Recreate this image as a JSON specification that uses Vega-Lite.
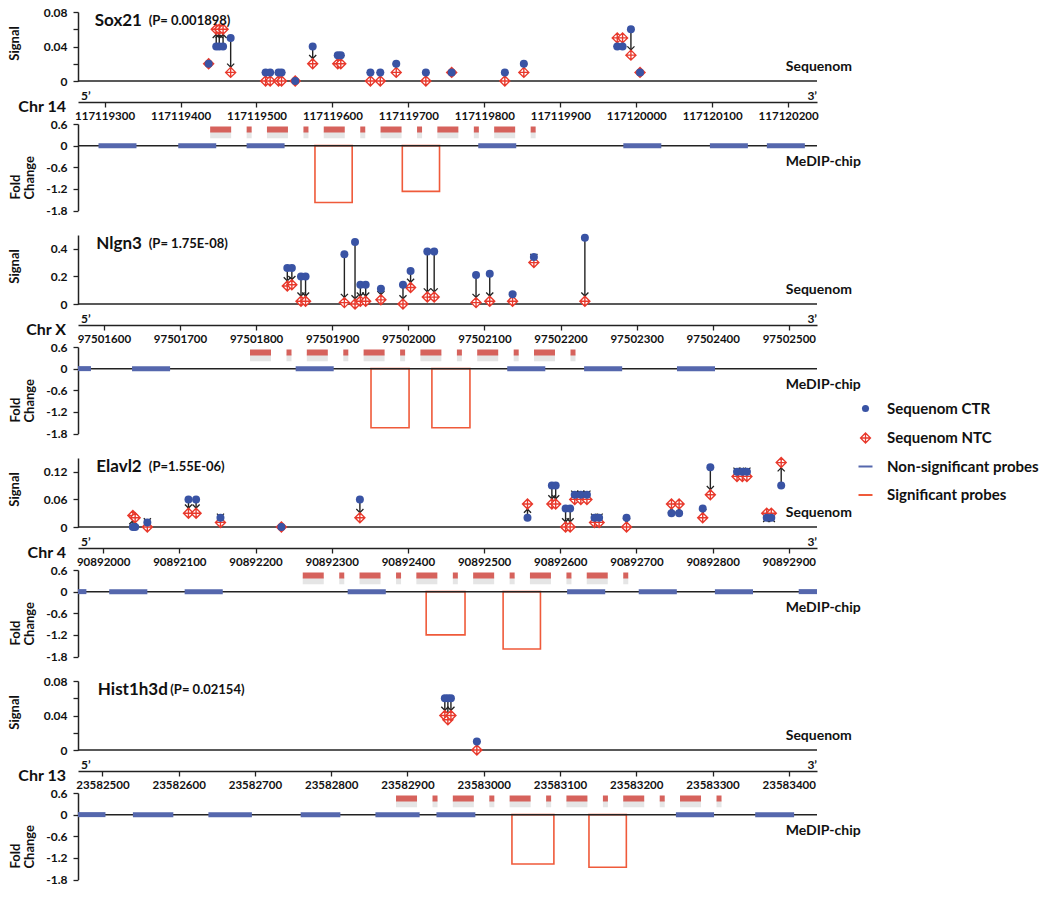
{
 "$schema": "https://vega.github.io/schema/vega-lite/v6.json",
 "padding": {"left": 8, "top": 6, "right": 5, "bottom": 5},
 "background": "white",
 "spacing": 24,
 "bounds": "flush",
 "datasets": {
  "s_sites": [
   {"pos":117119437,"CTR":0.02,"NTC":0.02},{"pos":117119447,"CTR":0.04,"NTC":0.06},{"pos":117119451,"CTR":0.04,"NTC":0.06},{"pos":117119456,"CTR":0.04,"NTC":0.06},
   {"pos":117119466,"CTR":0.05,"NTC":0.01},{"pos":117119512,"CTR":0.01,"NTC":0},{"pos":117119518,"CTR":0.01,"NTC":0},{"pos":117119529,"CTR":0.01,"NTC":0},
   {"pos":117119533,"CTR":0.01,"NTC":0},{"pos":117119551,"CTR":0,"NTC":0},{"pos":117119574,"CTR":0.04,"NTC":0.02},{"pos":117119607,"CTR":0.03,"NTC":0.02},
   {"pos":117119611,"CTR":0.03,"NTC":0.02},{"pos":117119650,"CTR":0.01,"NTC":0},{"pos":117119663,"CTR":0.01,"NTC":0},{"pos":117119684,"CTR":0.02,"NTC":0.01},
   {"pos":117119723,"CTR":0.01,"NTC":0},{"pos":117119757,"CTR":0.01,"NTC":0.01},{"pos":117119827,"CTR":0.01,"NTC":0},{"pos":117119852,"CTR":0.02,"NTC":0.01},
   {"pos":117119975,"CTR":0.04,"NTC":0.05},{"pos":117119982,"CTR":0.04,"NTC":0.05},{"pos":117119993,"CTR":0.06,"NTC":0.03},{"pos":117120005,"CTR":0.01,"NTC":0.01}
  ],
  "s_probes": [
   {"series":"NS","start":117119292,"end":117119342,"fc":0},{"series":"NS","start":117119397,"end":117119447,"fc":0},{"series":"NS","start":117119487,"end":117119537,"fc":0},
   {"series":"NS","start":117119792,"end":117119842,"fc":0},{"series":"NS","start":117119983,"end":117120033,"fc":0},{"series":"NS","start":117120097,"end":117120147,"fc":0},
   {"series":"NS","start":117120172,"end":117120222,"fc":0},
   {"series":"S","start":117119577,"end":117119626,"fc":-1.58},{"series":"S","start":117119692,"end":117119741,"fc":-1.27}
  ],
  "s_amp": [{"start":117119439,"end":117119868}],
  "n_sites": [
   {"pos":97501841,"CTR":0.26,"NTC":0.13},{"pos":97501847,"CTR":0.26,"NTC":0.14},{"pos":97501859,"CTR":0.2,"NTC":0.02},{"pos":97501865,"CTR":0.2,"NTC":0.02},
   {"pos":97501916,"CTR":0.36,"NTC":0.01},{"pos":97501930,"CTR":0.45,"NTC":0},{"pos":97501937,"CTR":0.14,"NTC":0.02},{"pos":97501944,"CTR":0.14,"NTC":0.02},
   {"pos":97501964,"CTR":0.11,"NTC":0.03},{"pos":97501993,"CTR":0.14,"NTC":0},{"pos":97502003,"CTR":0.24,"NTC":0.12},{"pos":97502025,"CTR":0.38,"NTC":0.05},
   {"pos":97502034,"CTR":0.38,"NTC":0.05},{"pos":97502089,"CTR":0.21,"NTC":0.01},{"pos":97502107,"CTR":0.22,"NTC":0.02},{"pos":97502137,"CTR":0.07,"NTC":0.02},
   {"pos":97502165,"CTR":0.34,"NTC":0.3},{"pos":97502232,"CTR":0.48,"NTC":0.02}
  ],
  "n_probes": [
   {"series":"NS","start":97501566,"end":97501583,"fc":0},{"series":"NS","start":97501637,"end":97501687,"fc":0},{"series":"NS","start":97501852,"end":97501902,"fc":0},
   {"series":"NS","start":97502130,"end":97502180,"fc":0},{"series":"NS","start":97502231,"end":97502281,"fc":0},{"series":"NS","start":97502353,"end":97502403,"fc":0},
   {"series":"S","start":97501951,"end":97502001,"fc":-1.64},{"series":"S","start":97502031,"end":97502081,"fc":-1.64}
  ],
  "n_amp": [{"start":97501792,"end":97502220}],
  "e_sites": [
   {"pos":90892039,"CTR":0,"NTC":0.025},{"pos":90892042,"CTR":0,"NTC":0.02},{"pos":90892058,"CTR":0.01,"NTC":0},{"pos":90892112,"CTR":0.06,"NTC":0.03},
   {"pos":90892122,"CTR":0.06,"NTC":0.03},{"pos":90892154,"CTR":0.02,"NTC":0.01},{"pos":90892234,"CTR":0,"NTC":0},{"pos":90892337,"CTR":0.06,"NTC":0.02},
   {"pos":90892557,"CTR":0.02,"NTC":0.05},{"pos":90892589,"CTR":0.09,"NTC":0.05},{"pos":90892594,"CTR":0.09,"NTC":0.05},{"pos":90892607,"CTR":0.04,"NTC":0},
   {"pos":90892613,"CTR":0.04,"NTC":0},{"pos":90892619,"CTR":0.07,"NTC":0.06},{"pos":90892627,"CTR":0.07,"NTC":0.06},{"pos":90892635,"CTR":0.07,"NTC":0.06},
   {"pos":90892645,"CTR":0.02,"NTC":0.01},{"pos":90892651,"CTR":0.02,"NTC":0.01},{"pos":90892687,"CTR":0.02,"NTC":0},{"pos":90892746,"CTR":0.03,"NTC":0.05},
   {"pos":90892756,"CTR":0.03,"NTC":0.05},{"pos":90892787,"CTR":0.04,"NTC":0.02},{"pos":90892797,"CTR":0.13,"NTC":0.07},{"pos":90892832,"CTR":0.12,"NTC":0.11},
   {"pos":90892839,"CTR":0.12,"NTC":0.11},{"pos":90892845,"CTR":0.12,"NTC":0.11},{"pos":90892871,"CTR":0.02,"NTC":0.03},{"pos":90892877,"CTR":0.02,"NTC":0.03},
   {"pos":90892890,"CTR":0.09,"NTC":0.14}
  ],
  "e_probes": [
   {"series":"NS","start":90891967,"end":90891978,"fc":0},{"series":"NS","start":90892008,"end":90892058,"fc":0},{"series":"NS","start":90892107,"end":90892157,"fc":0},
   {"series":"NS","start":90892321,"end":90892371,"fc":0},{"series":"NS","start":90892609,"end":90892659,"fc":0},{"series":"NS","start":90892703,"end":90892753,"fc":0},
   {"series":"NS","start":90892803,"end":90892853,"fc":0},{"series":"NS","start":90892913,"end":90892937,"fc":0},
   {"series":"S","start":90892424,"end":90892475,"fc":-1.2},{"series":"S","start":90892525,"end":90892574,"fc":-1.59}
  ],
  "e_amp": [{"start":90892262,"end":90892690}],
  "h_sites": [
   {"pos":23582949,"CTR":0.06,"NTC":0.04},{"pos":23582953,"CTR":0.06,"NTC":0.035},{"pos":23582957,"CTR":0.06,"NTC":0.04},{"pos":23582991,"CTR":0.01,"NTC":0}
  ],
  "h_probes": [
   {"series":"NS","start":23582468,"end":23582504,"fc":0},{"series":"NS","start":23582540,"end":23582593,"fc":0},{"series":"NS","start":23582639,"end":23582696,"fc":0},
   {"series":"NS","start":23582760,"end":23582812,"fc":0},{"series":"NS","start":23582858,"end":23582916,"fc":0},{"series":"NS","start":23582938,"end":23582989,"fc":0},
   {"series":"NS","start":23583252,"end":23583302,"fc":0},{"series":"NS","start":23583356,"end":23583407,"fc":0},
   {"series":"S","start":23583037,"end":23583092,"fc":-1.37},{"series":"S","start":23583138,"end":23583187,"fc":-1.46}
  ],
  "h_amp": [{"start":23582885,"end":23583312}]
 },
 "vconcat": [
  {
   "width": 739, "height": 198.5,
   "resolve": {"scale": {"y": "independent"}, "axis": {"y": "independent"}},
   "layer": [
    {"layer": [
     {"data": {"values": [{}]}, "mark": {"type": "rule", "color": "#222", "strokeWidth": 1.5},
      "encoding": {"y": {"datum": 0, "type": "quantitative", "scale": {"domain": [0, 0.08], "range": [69, 0], "nice": false, "zero": false},
       "axis": {"orient": "left", "title": "Signal", "values": [0, 0.02, 0.04, 0.06, 0.08], "labelExpr": "(datum.value == 0 || datum.value == 0.04 || datum.value == 0.08) ? format(datum.value, '~g') : ''", "titleX": -64, "titleY": 31, "titleAngle": -90, "titleAlign": "center", "titleBaseline": "middle"}}}},
     {"data": {"name": "s_sites"}, "transform": [{"filter": "datum.CTR != datum.NTC"}], "mark": {"type": "rule", "color": "#222", "strokeWidth": 1.4},
      "encoding": {"x": {"field": "pos", "type": "quantitative", "scale": {"domain": [117119265, 117120238], "nice": false, "zero": false},
        "axis": {"orient": "bottom", "offset": -108.5, "title": null, "values": [117119300,117119400,117119500,117119600,117119700,117119800,117119900,117120000,117120100,117120200], "format": "d"}},
       "y": {"field": "CTR", "type": "quantitative", "scale": {"domain": [0, 0.08], "range": [69, 0], "nice": false, "zero": false}}, "y2": {"field": "NTC"}}},
     {"data": {"name": "s_sites"}, "transform": [{"filter": "datum.CTR != datum.NTC"}], "mark": {"type": "point", "shape": "M-1.3,-3.2L0,-1.9L1.3,-3.2", "filled": false, "size": 30, "color": "#222", "strokeWidth": 1.3, "opacity": 1},
      "encoding": {"x": {"field": "pos", "type": "quantitative", "scale": {"domain": [117119265, 117120238], "nice": false, "zero": false}},
       "y": {"field": "NTC", "type": "quantitative", "scale": {"domain": [0, 0.08], "range": [69, 0], "nice": false, "zero": false}},
       "angle": {"condition": {"test": "datum.NTC > datum.CTR", "value": 180}, "value": 0}}},
     {"data": {"name": "s_sites"}, "mark": {"type": "point", "shape": "M0,-1L1,0L0,1L-1,0Z M0,-1L0,1 M-1,0L1,0", "filled": false, "fill": "white", "size": 100, "strokeWidth": 1.4, "opacity": 1},
      "encoding": {"x": {"field": "pos", "type": "quantitative", "scale": {"domain": [117119265, 117120238], "nice": false, "zero": false}},
       "y": {"field": "NTC", "type": "quantitative", "scale": {"domain": [0, 0.08], "range": [69, 0], "nice": false, "zero": false}},
       "color": {"datum": "NTC", "type": "nominal", "title": null, "scale": {"domain": ["CTR", "NTC", "NS", "S"], "range": ["#3953a4", "#e8392c", "#5567ad", "#ef5a3a"]},
        "legend": {"orient": "none", "legendX": 780, "legendY": 389, "title": null,
         "labelExpr": "datum.value == 'CTR' ? 'Sequenom CTR' : datum.value == 'NTC' ? 'Sequenom NTC' : datum.value == 'NS' ? 'Non-significant probes' : 'Significant probes'",
         "labelFont": "Lato", "labelFontSize": 15, "labelFontWeight": "bold", "labelColor": "#111", "labelLimit": 300, "rowPadding": 12.5, "labelOffset": 14, "symbolSize": 196,
         "encoding": {"symbols": {
          "shape": {"value": {"expr": "datum.value == 'CTR' ? 'circle' : datum.value == 'NTC' ? 'M0,-1L1,0L0,1L-1,0Z M0,-1L0,1 M-1,0L1,0' : 'stroke'"}},
          "fill": {"value": {"expr": "datum.value == 'CTR' ? '#3953a4' : datum.value == 'NTC' ? '#ffffff' : 'transparent'"}},
          "fillOpacity": {"value": {"expr": "datum.value == 'CTR' ? 1 : 0"}},
          "stroke": {"value": {"expr": "datum.value == 'CTR' ? '#3953a4' : datum.value == 'NTC' ? '#e8392c' : datum.value == 'NS' ? '#6b7bbf' : '#f07050'"}},
          "strokeWidth": {"value": {"expr": "datum.value == 'CTR' ? 0 : datum.value == 'NTC' ? 1.3 : 2"}},
          "size": {"value": {"expr": "datum.value == 'CTR' ? 50 : datum.value == 'NTC' ? 100 : 196"}},
          "opacity": {"value": 1}
         }}}}}},
     {"data": {"name": "s_sites"}, "mark": {"type": "point", "shape": "circle", "filled": true, "size": 64, "opacity": 1},
      "encoding": {"x": {"field": "pos", "type": "quantitative", "scale": {"domain": [117119265, 117120238], "nice": false, "zero": false}},
       "y": {"field": "CTR", "type": "quantitative", "scale": {"domain": [0, 0.08], "range": [69, 0], "nice": false, "zero": false}},
       "color": {"datum": "CTR", "type": "nominal", "title": null, "scale": {"domain": ["CTR", "NTC", "NS", "S"], "range": ["#3953a4", "#e8392c", "#5567ad", "#ef5a3a"]}}}}
    ]},
    {"layer": [
     {"data": {"name": "s_amp"}, "mark": {"type": "rule", "color": "#888", "opacity": 0.22, "strokeWidth": 7, "strokeDash": [21, 15.5, 5, 15.3]},
      "encoding": {"x": {"field": "start", "type": "quantitative", "scale": {"domain": [117119265, 117120238], "nice": false, "zero": false}}, "x2": {"field": "end"},
       "y": {"datum": 0.3, "type": "quantitative", "scale": {"domain": [-1.8, 0.6], "range": [198.5, 112], "nice": false, "zero": false}}}},
     {"data": {"name": "s_amp"}, "mark": {"type": "rule", "color": "#d6625c", "strokeWidth": 6, "strokeDash": [21, 15.5, 5, 15.3]},
      "encoding": {"x": {"field": "start", "type": "quantitative", "scale": {"domain": [117119265, 117120238], "nice": false, "zero": false}}, "x2": {"field": "end"},
       "y": {"datum": 0.447, "type": "quantitative", "scale": {"domain": [-1.8, 0.6], "range": [198.5, 112], "nice": false, "zero": false}}}},
     {"data": {"name": "s_probes"}, "transform": [{"filter": "datum.series == 'S'"}], "mark": {"type": "rect", "filled": false, "strokeWidth": 1.6},
      "encoding": {"x": {"field": "start", "type": "quantitative", "scale": {"domain": [117119265, 117120238], "nice": false, "zero": false}}, "x2": {"field": "end"},
       "y": {"field": "fc", "type": "quantitative", "scale": {"domain": [-1.8, 0.6], "range": [198.5, 112], "nice": false, "zero": false}}, "y2": {"datum": 0},
       "color": {"field": "series", "type": "nominal", "title": null, "scale": {"domain": ["CTR", "NTC", "NS", "S"], "range": ["#3953a4", "#e8392c", "#5567ad", "#ef5a3a"]}}}},
     {"data": {"values": [{}]}, "mark": {"type": "rule", "color": "#222", "strokeWidth": 1.5},
      "encoding": {"y": {"datum": 0, "type": "quantitative", "scale": {"domain": [-1.8, 0.6], "range": [198.5, 112], "nice": false, "zero": false},
       "axis": {"orient": "left", "title": ["Fold", "Change"], "values": [0.6, 0, -0.6, -1.2, -1.8], "labelExpr": "datum.value == 0 ? '0' : (datum.value < 0 ? '-' : '') + format(abs(datum.value), '.1f')", "titleX": -63, "titleY": 187, "titleAngle": -90, "titleAlign": "left", "titleBaseline": "middle", "titleLineHeight": 14}}}},
     {"data": {"name": "s_probes"}, "transform": [{"filter": "datum.series == 'NS'"}], "mark": {"type": "rule", "strokeWidth": 5},
      "encoding": {"x": {"field": "start", "type": "quantitative", "scale": {"domain": [117119265, 117120238], "nice": false, "zero": false}}, "x2": {"field": "end"},
       "y": {"datum": 0, "type": "quantitative", "scale": {"domain": [-1.8, 0.6], "range": [198.5, 112], "nice": false, "zero": false}},
       "color": {"field": "series", "type": "nominal", "title": null, "scale": {"domain": ["CTR", "NTC", "NS", "S"], "range": ["#3953a4", "#e8392c", "#5567ad", "#ef5a3a"]}}}},
     {"data": {"values": [{}]}, "mark": {"type": "text", "text": "Sox21", "fontSize": 17, "fontWeight": "bold", "align": "left", "baseline": "middle", "color": "#111"},
      "encoding": {"x": {"datum": 117119287, "type": "quantitative", "scale": {"domain": [117119265, 117120238], "nice": false, "zero": false}}, "y": {"datum": 3.46, "type": "quantitative", "scale": {"domain": [-1.8, 0.6], "range": [198.5, 112], "nice": false, "zero": false}}}},
     {"data": {"values": [{}]}, "mark": {"type": "text", "text": "(P= 0.001898)", "fontSize": 13, "fontWeight": "bold", "align": "left", "baseline": "middle", "color": "#111"},
      "encoding": {"x": {"datum": 117119358, "type": "quantitative", "scale": {"domain": [117119265, 117120238], "nice": false, "zero": false}}, "y": {"datum": 3.46, "type": "quantitative", "scale": {"domain": [-1.8, 0.6], "range": [198.5, 112], "nice": false, "zero": false}}}},
     {"data": {"values": [{}]}, "mark": {"type": "text", "text": "Sequenom", "fontSize": 14, "fontWeight": "bold", "align": "left", "baseline": "middle", "color": "#111"},
      "encoding": {"x": {"datum": 117120197, "type": "quantitative", "scale": {"domain": [117119265, 117120238], "nice": false, "zero": false}}, "y": {"datum": 2.18, "type": "quantitative", "scale": {"domain": [-1.8, 0.6], "range": [198.5, 112], "nice": false, "zero": false}}}},
     {"data": {"values": [{}]}, "mark": {"type": "text", "text": "MeDIP-chip", "fontSize": 14, "fontWeight": "bold", "align": "left", "baseline": "middle", "color": "#111"},
      "encoding": {"x": {"datum": 117120197, "type": "quantitative", "scale": {"domain": [117119265, 117120238], "nice": false, "zero": false}}, "y": {"datum": -0.454, "type": "quantitative", "scale": {"domain": [-1.8, 0.6], "range": [198.5, 112], "nice": false, "zero": false}}}},
     {"data": {"values": [{}]}, "mark": {"type": "text", "text": "5’", "fontSize": 12, "fontWeight": "bold", "align": "left", "baseline": "middle", "dx": 3, "color": "#111"},
      "encoding": {"x": {"datum": 117119265, "type": "quantitative", "scale": {"domain": [117119265, 117120238], "nice": false, "zero": false}}, "y": {"datum": 1.377, "type": "quantitative", "scale": {"domain": [-1.8, 0.6], "range": [198.5, 112], "nice": false, "zero": false}}}},
     {"data": {"values": [{}]}, "mark": {"type": "text", "text": "3’", "fontSize": 12, "fontWeight": "bold", "align": "right", "baseline": "middle", "color": "#111"},
      "encoding": {"x": {"datum": 117120238, "type": "quantitative", "scale": {"domain": [117119265, 117120238], "nice": false, "zero": false}}, "y": {"datum": 1.377, "type": "quantitative", "scale": {"domain": [-1.8, 0.6], "range": [198.5, 112], "nice": false, "zero": false}}}},
     {"data": {"values": [{}]}, "mark": {"type": "text", "text": "Chr 14", "fontSize": 16, "fontWeight": "bold", "align": "right", "baseline": "middle", "dx": -12, "color": "#111"},
      "encoding": {"x": {"datum": 117119265, "type": "quantitative", "scale": {"domain": [117119265, 117120238], "nice": false, "zero": false}}, "y": {"datum": 1.072, "type": "quantitative", "scale": {"domain": [-1.8, 0.6], "range": [198.5, 112], "nice": false, "zero": false}}}}
    ]}
   ]
  },
  {
   "width": 739, "height": 198.5,
   "resolve": {"scale": {"y": "independent"}, "axis": {"y": "independent"}},
   "layer": [
    {"layer": [
     {"data": {"values": [{}]}, "mark": {"type": "rule", "color": "#222", "strokeWidth": 1.5},
      "encoding": {"y": {"datum": 0, "type": "quantitative", "scale": {"domain": [0, 0.5], "range": [69, 0], "nice": false, "zero": false},
       "axis": {"orient": "left", "title": "Signal", "values": [0, 0.1, 0.2, 0.3, 0.4, 0.5], "labelExpr": "(datum.value == 0 || datum.value == 0.2 || datum.value == 0.4) ? format(datum.value, '~g') : ''", "titleX": -64, "titleY": 31, "titleAngle": -90, "titleAlign": "center", "titleBaseline": "middle"}}}},
     {"data": {"name": "n_sites"}, "transform": [{"filter": "datum.CTR != datum.NTC"}], "mark": {"type": "rule", "color": "#222", "strokeWidth": 1.4},
      "encoding": {"x": {"field": "pos", "type": "quantitative", "scale": {"domain": [97501566, 97502537], "nice": false, "zero": false},
        "axis": {"orient": "bottom", "offset": -108.5, "title": null, "values": [97501600,97501700,97501800,97501900,97502000,97502100,97502200,97502300,97502400,97502500], "format": "d"}},
       "y": {"field": "CTR", "type": "quantitative", "scale": {"domain": [0, 0.5], "range": [69, 0], "nice": false, "zero": false}}, "y2": {"field": "NTC"}}},
     {"data": {"name": "n_sites"}, "transform": [{"filter": "datum.CTR != datum.NTC"}], "mark": {"type": "point", "shape": "M-1.3,-3.2L0,-1.9L1.3,-3.2", "filled": false, "size": 30, "color": "#222", "strokeWidth": 1.3, "opacity": 1},
      "encoding": {"x": {"field": "pos", "type": "quantitative", "scale": {"domain": [97501566, 97502537], "nice": false, "zero": false}},
       "y": {"field": "NTC", "type": "quantitative", "scale": {"domain": [0, 0.5], "range": [69, 0], "nice": false, "zero": false}},
       "angle": {"condition": {"test": "datum.NTC > datum.CTR", "value": 180}, "value": 0}}},
     {"data": {"name": "n_sites"}, "mark": {"type": "point", "shape": "M0,-1L1,0L0,1L-1,0Z M0,-1L0,1 M-1,0L1,0", "filled": false, "fill": "white", "size": 100, "strokeWidth": 1.4, "opacity": 1},
      "encoding": {"x": {"field": "pos", "type": "quantitative", "scale": {"domain": [97501566, 97502537], "nice": false, "zero": false}},
       "y": {"field": "NTC", "type": "quantitative", "scale": {"domain": [0, 0.5], "range": [69, 0], "nice": false, "zero": false}},
       "color": {"datum": "NTC", "type": "nominal", "title": null, "scale": {"domain": ["CTR", "NTC", "NS", "S"], "range": ["#3953a4", "#e8392c", "#5567ad", "#ef5a3a"]}}}},
     {"data": {"name": "n_sites"}, "mark": {"type": "point", "shape": "circle", "filled": true, "size": 64, "opacity": 1},
      "encoding": {"x": {"field": "pos", "type": "quantitative", "scale": {"domain": [97501566, 97502537], "nice": false, "zero": false}},
       "y": {"field": "CTR", "type": "quantitative", "scale": {"domain": [0, 0.5], "range": [69, 0], "nice": false, "zero": false}},
       "color": {"datum": "CTR", "type": "nominal", "title": null, "scale": {"domain": ["CTR", "NTC", "NS", "S"], "range": ["#3953a4", "#e8392c", "#5567ad", "#ef5a3a"]}}}}
    ]},
    {"layer": [
     {"data": {"name": "n_amp"}, "mark": {"type": "rule", "color": "#888", "opacity": 0.22, "strokeWidth": 7, "strokeDash": [21, 15.5, 5, 15.3]},
      "encoding": {"x": {"field": "start", "type": "quantitative", "scale": {"domain": [97501566, 97502537], "nice": false, "zero": false}}, "x2": {"field": "end"},
       "y": {"datum": 0.3, "type": "quantitative", "scale": {"domain": [-1.8, 0.6], "range": [198.5, 112], "nice": false, "zero": false}}}},
     {"data": {"name": "n_amp"}, "mark": {"type": "rule", "color": "#d6625c", "strokeWidth": 6, "strokeDash": [21, 15.5, 5, 15.3]},
      "encoding": {"x": {"field": "start", "type": "quantitative", "scale": {"domain": [97501566, 97502537], "nice": false, "zero": false}}, "x2": {"field": "end"},
       "y": {"datum": 0.447, "type": "quantitative", "scale": {"domain": [-1.8, 0.6], "range": [198.5, 112], "nice": false, "zero": false}}}},
     {"data": {"name": "n_probes"}, "transform": [{"filter": "datum.series == 'S'"}], "mark": {"type": "rect", "filled": false, "strokeWidth": 1.6},
      "encoding": {"x": {"field": "start", "type": "quantitative", "scale": {"domain": [97501566, 97502537], "nice": false, "zero": false}}, "x2": {"field": "end"},
       "y": {"field": "fc", "type": "quantitative", "scale": {"domain": [-1.8, 0.6], "range": [198.5, 112], "nice": false, "zero": false}}, "y2": {"datum": 0},
       "color": {"field": "series", "type": "nominal", "title": null, "scale": {"domain": ["CTR", "NTC", "NS", "S"], "range": ["#3953a4", "#e8392c", "#5567ad", "#ef5a3a"]}}}},
     {"data": {"values": [{}]}, "mark": {"type": "rule", "color": "#222", "strokeWidth": 1.5},
      "encoding": {"y": {"datum": 0, "type": "quantitative", "scale": {"domain": [-1.8, 0.6], "range": [198.5, 112], "nice": false, "zero": false},
       "axis": {"orient": "left", "title": ["Fold", "Change"], "values": [0.6, 0, -0.6, -1.2, -1.8], "labelExpr": "datum.value == 0 ? '0' : (datum.value < 0 ? '-' : '') + format(abs(datum.value), '.1f')", "titleX": -63, "titleY": 187, "titleAngle": -90, "titleAlign": "left", "titleBaseline": "middle", "titleLineHeight": 14}}}},
     {"data": {"name": "n_probes"}, "transform": [{"filter": "datum.series == 'NS'"}], "mark": {"type": "rule", "strokeWidth": 5},
      "encoding": {"x": {"field": "start", "type": "quantitative", "scale": {"domain": [97501566, 97502537], "nice": false, "zero": false}}, "x2": {"field": "end"},
       "y": {"datum": 0, "type": "quantitative", "scale": {"domain": [-1.8, 0.6], "range": [198.5, 112], "nice": false, "zero": false}},
       "color": {"field": "series", "type": "nominal", "title": null, "scale": {"domain": ["CTR", "NTC", "NS", "S"], "range": ["#3953a4", "#e8392c", "#5567ad", "#ef5a3a"]}}}},
     {"data": {"values": [{}]}, "mark": {"type": "text", "text": "Nlgn3", "fontSize": 17, "fontWeight": "bold", "align": "left", "baseline": "middle", "color": "#111"},
      "encoding": {"x": {"datum": 97501590, "type": "quantitative", "scale": {"domain": [97501566, 97502537], "nice": false, "zero": false}}, "y": {"datum": 3.46, "type": "quantitative", "scale": {"domain": [-1.8, 0.6], "range": [198.5, 112], "nice": false, "zero": false}}}},
     {"data": {"values": [{}]}, "mark": {"type": "text", "text": "(P= 1.75E-08)", "fontSize": 13, "fontWeight": "bold", "align": "left", "baseline": "middle", "color": "#111"},
      "encoding": {"x": {"datum": 97501659, "type": "quantitative", "scale": {"domain": [97501566, 97502537], "nice": false, "zero": false}}, "y": {"datum": 3.46, "type": "quantitative", "scale": {"domain": [-1.8, 0.6], "range": [198.5, 112], "nice": false, "zero": false}}}},
     {"data": {"values": [{}]}, "mark": {"type": "text", "text": "Sequenom", "fontSize": 14, "fontWeight": "bold", "align": "left", "baseline": "middle", "color": "#111"},
      "encoding": {"x": {"datum": 97502496, "type": "quantitative", "scale": {"domain": [97501566, 97502537], "nice": false, "zero": false}}, "y": {"datum": 2.18, "type": "quantitative", "scale": {"domain": [-1.8, 0.6], "range": [198.5, 112], "nice": false, "zero": false}}}},
     {"data": {"values": [{}]}, "mark": {"type": "text", "text": "MeDIP-chip", "fontSize": 14, "fontWeight": "bold", "align": "left", "baseline": "middle", "color": "#111"},
      "encoding": {"x": {"datum": 97502496, "type": "quantitative", "scale": {"domain": [97501566, 97502537], "nice": false, "zero": false}}, "y": {"datum": -0.454, "type": "quantitative", "scale": {"domain": [-1.8, 0.6], "range": [198.5, 112], "nice": false, "zero": false}}}},
     {"data": {"values": [{}]}, "mark": {"type": "text", "text": "5’", "fontSize": 12, "fontWeight": "bold", "align": "left", "baseline": "middle", "dx": 3, "color": "#111"},
      "encoding": {"x": {"datum": 97501566, "type": "quantitative", "scale": {"domain": [97501566, 97502537], "nice": false, "zero": false}}, "y": {"datum": 1.377, "type": "quantitative", "scale": {"domain": [-1.8, 0.6], "range": [198.5, 112], "nice": false, "zero": false}}}},
     {"data": {"values": [{}]}, "mark": {"type": "text", "text": "3’", "fontSize": 12, "fontWeight": "bold", "align": "right", "baseline": "middle", "color": "#111"},
      "encoding": {"x": {"datum": 97502537, "type": "quantitative", "scale": {"domain": [97501566, 97502537], "nice": false, "zero": false}}, "y": {"datum": 1.377, "type": "quantitative", "scale": {"domain": [-1.8, 0.6], "range": [198.5, 112], "nice": false, "zero": false}}}},
     {"data": {"values": [{}]}, "mark": {"type": "text", "text": "Chr X", "fontSize": 16, "fontWeight": "bold", "align": "right", "baseline": "middle", "dx": -12, "color": "#111"},
      "encoding": {"x": {"datum": 97501566, "type": "quantitative", "scale": {"domain": [97501566, 97502537], "nice": false, "zero": false}}, "y": {"datum": 1.072, "type": "quantitative", "scale": {"domain": [-1.8, 0.6], "range": [198.5, 112], "nice": false, "zero": false}}}}
    ]}
   ]
  },
  {
   "width": 739, "height": 198.5,
   "resolve": {"scale": {"y": "independent"}, "axis": {"y": "independent"}},
   "layer": [
    {"layer": [
     {"data": {"values": [{}]}, "mark": {"type": "rule", "color": "#222", "strokeWidth": 1.5},
      "encoding": {"y": {"datum": 0, "type": "quantitative", "scale": {"domain": [0, 0.15], "range": [69, 0], "nice": false, "zero": false},
       "axis": {"orient": "left", "title": "Signal", "values": [0, 0.03, 0.06, 0.09, 0.12, 0.15], "labelExpr": "(datum.value == 0 || datum.value == 0.06 || datum.value == 0.12) ? format(datum.value, '~g') : ''", "titleX": -64, "titleY": 31, "titleAngle": -90, "titleAlign": "center", "titleBaseline": "middle"}}}},
     {"data": {"name": "e_sites"}, "transform": [{"filter": "datum.CTR != datum.NTC"}], "mark": {"type": "rule", "color": "#222", "strokeWidth": 1.4},
      "encoding": {"x": {"field": "pos", "type": "quantitative", "scale": {"domain": [90891967, 90892937], "nice": false, "zero": false},
        "axis": {"orient": "bottom", "offset": -108.5, "title": null, "values": [90892000,90892100,90892200,90892300,90892400,90892500,90892600,90892700,90892800,90892900], "format": "d"}},
       "y": {"field": "CTR", "type": "quantitative", "scale": {"domain": [0, 0.15], "range": [69, 0], "nice": false, "zero": false}}, "y2": {"field": "NTC"}}},
     {"data": {"name": "e_sites"}, "transform": [{"filter": "datum.CTR != datum.NTC"}], "mark": {"type": "point", "shape": "M-1.3,-3.2L0,-1.9L1.3,-3.2", "filled": false, "size": 30, "color": "#222", "strokeWidth": 1.3, "opacity": 1},
      "encoding": {"x": {"field": "pos", "type": "quantitative", "scale": {"domain": [90891967, 90892937], "nice": false, "zero": false}},
       "y": {"field": "NTC", "type": "quantitative", "scale": {"domain": [0, 0.15], "range": [69, 0], "nice": false, "zero": false}},
       "angle": {"condition": {"test": "datum.NTC > datum.CTR", "value": 180}, "value": 0}}},
     {"data": {"name": "e_sites"}, "mark": {"type": "point", "shape": "M0,-1L1,0L0,1L-1,0Z M0,-1L0,1 M-1,0L1,0", "filled": false, "fill": "white", "size": 100, "strokeWidth": 1.4, "opacity": 1},
      "encoding": {"x": {"field": "pos", "type": "quantitative", "scale": {"domain": [90891967, 90892937], "nice": false, "zero": false}},
       "y": {"field": "NTC", "type": "quantitative", "scale": {"domain": [0, 0.15], "range": [69, 0], "nice": false, "zero": false}},
       "color": {"datum": "NTC", "type": "nominal", "title": null, "scale": {"domain": ["CTR", "NTC", "NS", "S"], "range": ["#3953a4", "#e8392c", "#5567ad", "#ef5a3a"]}}}},
     {"data": {"name": "e_sites"}, "mark": {"type": "point", "shape": "circle", "filled": true, "size": 64, "opacity": 1},
      "encoding": {"x": {"field": "pos", "type": "quantitative", "scale": {"domain": [90891967, 90892937], "nice": false, "zero": false}},
       "y": {"field": "CTR", "type": "quantitative", "scale": {"domain": [0, 0.15], "range": [69, 0], "nice": false, "zero": false}},
       "color": {"datum": "CTR", "type": "nominal", "title": null, "scale": {"domain": ["CTR", "NTC", "NS", "S"], "range": ["#3953a4", "#e8392c", "#5567ad", "#ef5a3a"]}}}}
    ]},
    {"layer": [
     {"data": {"name": "e_amp"}, "mark": {"type": "rule", "color": "#888", "opacity": 0.22, "strokeWidth": 7, "strokeDash": [21, 15.5, 5, 15.3]},
      "encoding": {"x": {"field": "start", "type": "quantitative", "scale": {"domain": [90891967, 90892937], "nice": false, "zero": false}}, "x2": {"field": "end"},
       "y": {"datum": 0.3, "type": "quantitative", "scale": {"domain": [-1.8, 0.6], "range": [198.5, 112], "nice": false, "zero": false}}}},
     {"data": {"name": "e_amp"}, "mark": {"type": "rule", "color": "#d6625c", "strokeWidth": 6, "strokeDash": [21, 15.5, 5, 15.3]},
      "encoding": {"x": {"field": "start", "type": "quantitative", "scale": {"domain": [90891967, 90892937], "nice": false, "zero": false}}, "x2": {"field": "end"},
       "y": {"datum": 0.447, "type": "quantitative", "scale": {"domain": [-1.8, 0.6], "range": [198.5, 112], "nice": false, "zero": false}}}},
     {"data": {"name": "e_probes"}, "transform": [{"filter": "datum.series == 'S'"}], "mark": {"type": "rect", "filled": false, "strokeWidth": 1.6},
      "encoding": {"x": {"field": "start", "type": "quantitative", "scale": {"domain": [90891967, 90892937], "nice": false, "zero": false}}, "x2": {"field": "end"},
       "y": {"field": "fc", "type": "quantitative", "scale": {"domain": [-1.8, 0.6], "range": [198.5, 112], "nice": false, "zero": false}}, "y2": {"datum": 0},
       "color": {"field": "series", "type": "nominal", "title": null, "scale": {"domain": ["CTR", "NTC", "NS", "S"], "range": ["#3953a4", "#e8392c", "#5567ad", "#ef5a3a"]}}}},
     {"data": {"values": [{}]}, "mark": {"type": "rule", "color": "#222", "strokeWidth": 1.5},
      "encoding": {"y": {"datum": 0, "type": "quantitative", "scale": {"domain": [-1.8, 0.6], "range": [198.5, 112], "nice": false, "zero": false},
       "axis": {"orient": "left", "title": ["Fold", "Change"], "values": [0.6, 0, -0.6, -1.2, -1.8], "labelExpr": "datum.value == 0 ? '0' : (datum.value < 0 ? '-' : '') + format(abs(datum.value), '.1f')", "titleX": -63, "titleY": 187, "titleAngle": -90, "titleAlign": "left", "titleBaseline": "middle", "titleLineHeight": 14}}}},
     {"data": {"name": "e_probes"}, "transform": [{"filter": "datum.series == 'NS'"}], "mark": {"type": "rule", "strokeWidth": 5},
      "encoding": {"x": {"field": "start", "type": "quantitative", "scale": {"domain": [90891967, 90892937], "nice": false, "zero": false}}, "x2": {"field": "end"},
       "y": {"datum": 0, "type": "quantitative", "scale": {"domain": [-1.8, 0.6], "range": [198.5, 112], "nice": false, "zero": false}},
       "color": {"field": "series", "type": "nominal", "title": null, "scale": {"domain": ["CTR", "NTC", "NS", "S"], "range": ["#3953a4", "#e8392c", "#5567ad", "#ef5a3a"]}}}},
     {"data": {"values": [{}]}, "mark": {"type": "text", "text": "Elavl2", "fontSize": 17, "fontWeight": "bold", "align": "left", "baseline": "middle", "color": "#111"},
      "encoding": {"x": {"datum": 90891991, "type": "quantitative", "scale": {"domain": [90891967, 90892937], "nice": false, "zero": false}}, "y": {"datum": 3.46, "type": "quantitative", "scale": {"domain": [-1.8, 0.6], "range": [198.5, 112], "nice": false, "zero": false}}}},
     {"data": {"values": [{}]}, "mark": {"type": "text", "text": "(P=1.55E-06)", "fontSize": 13, "fontWeight": "bold", "align": "left", "baseline": "middle", "color": "#111"},
      "encoding": {"x": {"datum": 90892060, "type": "quantitative", "scale": {"domain": [90891967, 90892937], "nice": false, "zero": false}}, "y": {"datum": 3.46, "type": "quantitative", "scale": {"domain": [-1.8, 0.6], "range": [198.5, 112], "nice": false, "zero": false}}}},
     {"data": {"values": [{}]}, "mark": {"type": "text", "text": "Sequenom", "fontSize": 14, "fontWeight": "bold", "align": "left", "baseline": "middle", "color": "#111"},
      "encoding": {"x": {"datum": 90892896, "type": "quantitative", "scale": {"domain": [90891967, 90892937], "nice": false, "zero": false}}, "y": {"datum": 2.18, "type": "quantitative", "scale": {"domain": [-1.8, 0.6], "range": [198.5, 112], "nice": false, "zero": false}}}},
     {"data": {"values": [{}]}, "mark": {"type": "text", "text": "MeDIP-chip", "fontSize": 14, "fontWeight": "bold", "align": "left", "baseline": "middle", "color": "#111"},
      "encoding": {"x": {"datum": 90892896, "type": "quantitative", "scale": {"domain": [90891967, 90892937], "nice": false, "zero": false}}, "y": {"datum": -0.454, "type": "quantitative", "scale": {"domain": [-1.8, 0.6], "range": [198.5, 112], "nice": false, "zero": false}}}},
     {"data": {"values": [{}]}, "mark": {"type": "text", "text": "5’", "fontSize": 12, "fontWeight": "bold", "align": "left", "baseline": "middle", "dx": 3, "color": "#111"},
      "encoding": {"x": {"datum": 90891967, "type": "quantitative", "scale": {"domain": [90891967, 90892937], "nice": false, "zero": false}}, "y": {"datum": 1.377, "type": "quantitative", "scale": {"domain": [-1.8, 0.6], "range": [198.5, 112], "nice": false, "zero": false}}}},
     {"data": {"values": [{}]}, "mark": {"type": "text", "text": "3’", "fontSize": 12, "fontWeight": "bold", "align": "right", "baseline": "middle", "color": "#111"},
      "encoding": {"x": {"datum": 90892937, "type": "quantitative", "scale": {"domain": [90891967, 90892937], "nice": false, "zero": false}}, "y": {"datum": 1.377, "type": "quantitative", "scale": {"domain": [-1.8, 0.6], "range": [198.5, 112], "nice": false, "zero": false}}}},
     {"data": {"values": [{}]}, "mark": {"type": "text", "text": "Chr 4", "fontSize": 16, "fontWeight": "bold", "align": "right", "baseline": "middle", "dx": -12, "color": "#111"},
      "encoding": {"x": {"datum": 90891967, "type": "quantitative", "scale": {"domain": [90891967, 90892937], "nice": false, "zero": false}}, "y": {"datum": 1.072, "type": "quantitative", "scale": {"domain": [-1.8, 0.6], "range": [198.5, 112], "nice": false, "zero": false}}}}
    ]}
   ]
  },
  {
   "width": 739, "height": 198.5,
   "resolve": {"scale": {"y": "independent"}, "axis": {"y": "independent"}},
   "layer": [
    {"layer": [
     {"data": {"values": [{}]}, "mark": {"type": "rule", "color": "#222", "strokeWidth": 1.5},
      "encoding": {"y": {"datum": 0, "type": "quantitative", "scale": {"domain": [0, 0.08], "range": [69, 0], "nice": false, "zero": false},
       "axis": {"orient": "left", "title": "Signal", "values": [0, 0.02, 0.04, 0.06, 0.08], "labelExpr": "(datum.value == 0 || datum.value == 0.04 || datum.value == 0.08) ? format(datum.value, '~g') : ''", "titleX": -64, "titleY": 31, "titleAngle": -90, "titleAlign": "center", "titleBaseline": "middle"}}}},
     {"data": {"name": "h_sites"}, "transform": [{"filter": "datum.CTR != datum.NTC"}], "mark": {"type": "rule", "color": "#222", "strokeWidth": 1.4},
      "encoding": {"x": {"field": "pos", "type": "quantitative", "scale": {"domain": [23582468, 23583437], "nice": false, "zero": false},
        "axis": {"orient": "bottom", "offset": -108.5, "title": null, "values": [23582500,23582600,23582700,23582800,23582900,23583000,23583100,23583200,23583300,23583400], "format": "d"}},
       "y": {"field": "CTR", "type": "quantitative", "scale": {"domain": [0, 0.08], "range": [69, 0], "nice": false, "zero": false}}, "y2": {"field": "NTC"}}},
     {"data": {"name": "h_sites"}, "transform": [{"filter": "datum.CTR != datum.NTC"}], "mark": {"type": "point", "shape": "M-1.3,-3.2L0,-1.9L1.3,-3.2", "filled": false, "size": 30, "color": "#222", "strokeWidth": 1.3, "opacity": 1},
      "encoding": {"x": {"field": "pos", "type": "quantitative", "scale": {"domain": [23582468, 23583437], "nice": false, "zero": false}},
       "y": {"field": "NTC", "type": "quantitative", "scale": {"domain": [0, 0.08], "range": [69, 0], "nice": false, "zero": false}},
       "angle": {"condition": {"test": "datum.NTC > datum.CTR", "value": 180}, "value": 0}}},
     {"data": {"name": "h_sites"}, "mark": {"type": "point", "shape": "M0,-1L1,0L0,1L-1,0Z M0,-1L0,1 M-1,0L1,0", "filled": false, "fill": "white", "size": 100, "strokeWidth": 1.4, "opacity": 1},
      "encoding": {"x": {"field": "pos", "type": "quantitative", "scale": {"domain": [23582468, 23583437], "nice": false, "zero": false}},
       "y": {"field": "NTC", "type": "quantitative", "scale": {"domain": [0, 0.08], "range": [69, 0], "nice": false, "zero": false}},
       "color": {"datum": "NTC", "type": "nominal", "title": null, "scale": {"domain": ["CTR", "NTC", "NS", "S"], "range": ["#3953a4", "#e8392c", "#5567ad", "#ef5a3a"]}}}},
     {"data": {"name": "h_sites"}, "mark": {"type": "point", "shape": "circle", "filled": true, "size": 64, "opacity": 1},
      "encoding": {"x": {"field": "pos", "type": "quantitative", "scale": {"domain": [23582468, 23583437], "nice": false, "zero": false}},
       "y": {"field": "CTR", "type": "quantitative", "scale": {"domain": [0, 0.08], "range": [69, 0], "nice": false, "zero": false}},
       "color": {"datum": "CTR", "type": "nominal", "title": null, "scale": {"domain": ["CTR", "NTC", "NS", "S"], "range": ["#3953a4", "#e8392c", "#5567ad", "#ef5a3a"]}}}}
    ]},
    {"layer": [
     {"data": {"name": "h_amp"}, "mark": {"type": "rule", "color": "#888", "opacity": 0.22, "strokeWidth": 7, "strokeDash": [21, 15.5, 5, 15.3]},
      "encoding": {"x": {"field": "start", "type": "quantitative", "scale": {"domain": [23582468, 23583437], "nice": false, "zero": false}}, "x2": {"field": "end"},
       "y": {"datum": 0.3, "type": "quantitative", "scale": {"domain": [-1.8, 0.6], "range": [198.5, 112], "nice": false, "zero": false}}}},
     {"data": {"name": "h_amp"}, "mark": {"type": "rule", "color": "#d6625c", "strokeWidth": 6, "strokeDash": [21, 15.5, 5, 15.3]},
      "encoding": {"x": {"field": "start", "type": "quantitative", "scale": {"domain": [23582468, 23583437], "nice": false, "zero": false}}, "x2": {"field": "end"},
       "y": {"datum": 0.447, "type": "quantitative", "scale": {"domain": [-1.8, 0.6], "range": [198.5, 112], "nice": false, "zero": false}}}},
     {"data": {"name": "h_probes"}, "transform": [{"filter": "datum.series == 'S'"}], "mark": {"type": "rect", "filled": false, "strokeWidth": 1.6},
      "encoding": {"x": {"field": "start", "type": "quantitative", "scale": {"domain": [23582468, 23583437], "nice": false, "zero": false}}, "x2": {"field": "end"},
       "y": {"field": "fc", "type": "quantitative", "scale": {"domain": [-1.8, 0.6], "range": [198.5, 112], "nice": false, "zero": false}}, "y2": {"datum": 0},
       "color": {"field": "series", "type": "nominal", "title": null, "scale": {"domain": ["CTR", "NTC", "NS", "S"], "range": ["#3953a4", "#e8392c", "#5567ad", "#ef5a3a"]}}}},
     {"data": {"values": [{}]}, "mark": {"type": "rule", "color": "#222", "strokeWidth": 1.5},
      "encoding": {"y": {"datum": 0, "type": "quantitative", "scale": {"domain": [-1.8, 0.6], "range": [198.5, 112], "nice": false, "zero": false},
       "axis": {"orient": "left", "title": ["Fold", "Change"], "values": [0.6, 0, -0.6, -1.2, -1.8], "labelExpr": "datum.value == 0 ? '0' : (datum.value < 0 ? '-' : '') + format(abs(datum.value), '.1f')", "titleX": -63, "titleY": 187, "titleAngle": -90, "titleAlign": "left", "titleBaseline": "middle", "titleLineHeight": 14}}}},
     {"data": {"name": "h_probes"}, "transform": [{"filter": "datum.series == 'NS'"}], "mark": {"type": "rule", "strokeWidth": 5},
      "encoding": {"x": {"field": "start", "type": "quantitative", "scale": {"domain": [23582468, 23583437], "nice": false, "zero": false}}, "x2": {"field": "end"},
       "y": {"datum": 0, "type": "quantitative", "scale": {"domain": [-1.8, 0.6], "range": [198.5, 112], "nice": false, "zero": false}},
       "color": {"field": "series", "type": "nominal", "title": null, "scale": {"domain": ["CTR", "NTC", "NS", "S"], "range": ["#3953a4", "#e8392c", "#5567ad", "#ef5a3a"]}}}},
     {"data": {"values": [{}]}, "mark": {"type": "text", "text": "Hist1h3d", "fontSize": 17, "fontWeight": "bold", "align": "left", "baseline": "middle", "color": "#111"},
      "encoding": {"x": {"datum": 23582494, "type": "quantitative", "scale": {"domain": [23582468, 23583437], "nice": false, "zero": false}}, "y": {"datum": 3.46, "type": "quantitative", "scale": {"domain": [-1.8, 0.6], "range": [198.5, 112], "nice": false, "zero": false}}}},
     {"data": {"values": [{}]}, "mark": {"type": "text", "text": "(P= 0.02154)", "fontSize": 13, "fontWeight": "bold", "align": "left", "baseline": "middle", "color": "#111"},
      "encoding": {"x": {"datum": 23582589, "type": "quantitative", "scale": {"domain": [23582468, 23583437], "nice": false, "zero": false}}, "y": {"datum": 3.46, "type": "quantitative", "scale": {"domain": [-1.8, 0.6], "range": [198.5, 112], "nice": false, "zero": false}}}},
     {"data": {"values": [{}]}, "mark": {"type": "text", "text": "Sequenom", "fontSize": 14, "fontWeight": "bold", "align": "left", "baseline": "middle", "color": "#111"},
      "encoding": {"x": {"datum": 23583396, "type": "quantitative", "scale": {"domain": [23582468, 23583437], "nice": false, "zero": false}}, "y": {"datum": 2.18, "type": "quantitative", "scale": {"domain": [-1.8, 0.6], "range": [198.5, 112], "nice": false, "zero": false}}}},
     {"data": {"values": [{}]}, "mark": {"type": "text", "text": "MeDIP-chip", "fontSize": 14, "fontWeight": "bold", "align": "left", "baseline": "middle", "color": "#111"},
      "encoding": {"x": {"datum": 23583396, "type": "quantitative", "scale": {"domain": [23582468, 23583437], "nice": false, "zero": false}}, "y": {"datum": -0.454, "type": "quantitative", "scale": {"domain": [-1.8, 0.6], "range": [198.5, 112], "nice": false, "zero": false}}}},
     {"data": {"values": [{}]}, "mark": {"type": "text", "text": "5’", "fontSize": 12, "fontWeight": "bold", "align": "left", "baseline": "middle", "dx": 3, "color": "#111"},
      "encoding": {"x": {"datum": 23582468, "type": "quantitative", "scale": {"domain": [23582468, 23583437], "nice": false, "zero": false}}, "y": {"datum": 1.377, "type": "quantitative", "scale": {"domain": [-1.8, 0.6], "range": [198.5, 112], "nice": false, "zero": false}}}},
     {"data": {"values": [{}]}, "mark": {"type": "text", "text": "3’", "fontSize": 12, "fontWeight": "bold", "align": "right", "baseline": "middle", "color": "#111"},
      "encoding": {"x": {"datum": 23583437, "type": "quantitative", "scale": {"domain": [23582468, 23583437], "nice": false, "zero": false}}, "y": {"datum": 1.377, "type": "quantitative", "scale": {"domain": [-1.8, 0.6], "range": [198.5, 112], "nice": false, "zero": false}}}},
     {"data": {"values": [{}]}, "mark": {"type": "text", "text": "Chr 13", "fontSize": 16, "fontWeight": "bold", "align": "right", "baseline": "middle", "dx": -12, "color": "#111"},
      "encoding": {"x": {"datum": 23582468, "type": "quantitative", "scale": {"domain": [23582468, 23583437], "nice": false, "zero": false}}, "y": {"datum": 1.072, "type": "quantitative", "scale": {"domain": [-1.8, 0.6], "range": [198.5, 112], "nice": false, "zero": false}}}}
    ]}
   ]
  }
 ],
 "config": {
  "font": "Lato",
  "view": {"stroke": null},
  "axis": {"grid": false, "domainColor": "#222", "tickColor": "#222", "domainWidth": 1.5, "tickWidth": 1.3, "tickSize": 5, "labelFont": "Lato", "labelFontWeight": "bold", "labelFontSize": 12, "labelColor": "#111", "labelPadding": 6, "titleFont": "Lato", "titleFontWeight": "bold", "titleFontSize": 13, "titleColor": "#111", "labelOverlap": false, "labelFlush": false, "labelBound": false},
  "axisX": {"labelFontSize": 11.5, "labelPadding": 3},
  "text": {"font": "Lato"}
 }
}
